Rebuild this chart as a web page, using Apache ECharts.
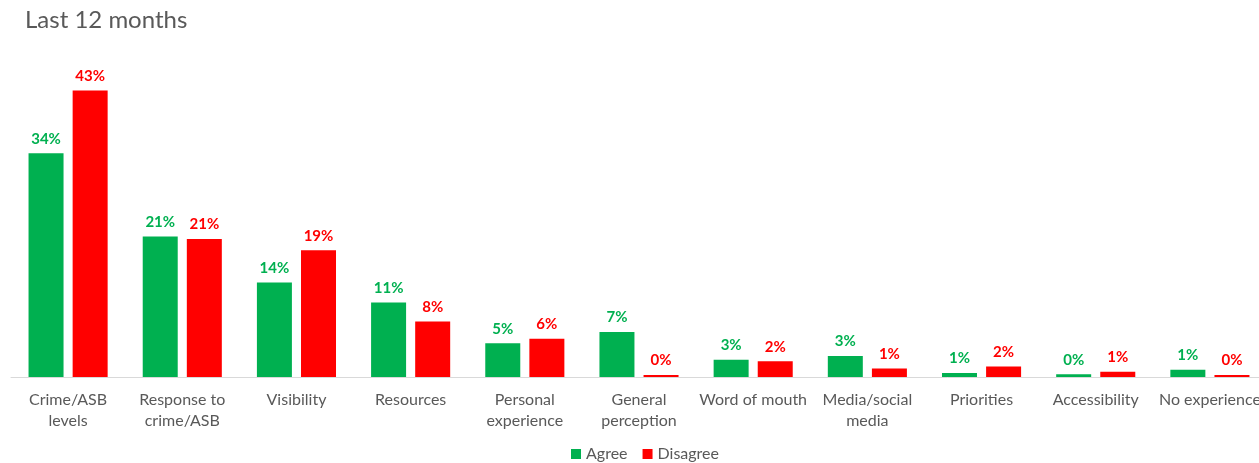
<!DOCTYPE html>
<html>
<head>
<meta charset="utf-8">
<script src="https://cdn.jsdelivr.net/npm/echarts@6/dist/echarts.min.js"></script>
<style>
  html, body { margin: 0; padding: 0; background: #fff; }
  #chart { width: 1259px; height: 463px; }
</style>
</head>
<body>
<div id="chart"></div>
<script>
// Reasons given, last 12 months (percent of respondents)
const categories = [
  'Crime/ASB\nlevels', 'Response to\ncrime/ASB', 'Visibility', 'Resources',
  'Personal\nexperience', 'General\nperception', 'Word of mouth',
  'Media/social\nmedia', 'Priorities', 'Accessibility', 'No experience'
];
const agree    = [33.9, 21.3, 14.3, 11.3, 5.1, 6.8, 2.6, 3.2, 0.6, 0.4, 1.1];
const disagree = [43.4, 20.9, 19.2, 8.4, 5.8, 0.3, 2.4, 1.3, 1.6, 0.8, 0.3];
const seriesNames = ['Agree', 'Disagree'];

const FONT = 'Lato, "Open Sans", sans-serif';
const GREEN = '#00B050';
const RED = '#FF0000';

const chart = echarts.init(document.getElementById('chart'), null, { renderer: 'canvas' });

function barSeries(name, data, color) {
  return {
    name: name,
    type: 'bar',
    data: data,
    barWidth: 35,
    barGap: '26%',
    itemStyle: { color: color },
    label: {
      show: true,
      position: 'top',
      distance: 7,
      color: color,
      fontFamily: FONT,
      fontWeight: 'bold',
      fontSize: 15,
      formatter: p => Math.round(p.value) + '%'
    }
  };
}

chart.setOption({
  animation: false,
  title: {
    text: 'Last 12 months',
    left: 20,
    top: 3,
    textStyle: { fontFamily: FONT, fontSize: 24, fontWeight: 'normal', color: '#595959' }
  },
  legend: {
    top: 441,
    left: 566,
    itemWidth: 10,
    itemHeight: 10,
    itemGap: 15,
    icon: 'rect',
    textStyle: { fontFamily: FONT, fontSize: 16, color: '#595959' },
    data: seriesNames
  },
  // the last category label runs off the right edge, so don't shrink the grid to fit it
  grid: { left: 11, width: 1256, top: 47, height: 330, outerBoundsMode: 'none', containLabel: false },
  xAxis: {
    type: 'category',
    data: categories,
    axisLine: { lineStyle: { color: '#D9D9D9', width: 1 } },
    axisTick: { show: false },
    axisLabel: {
      interval: 0,
      margin: 12,
      lineHeight: 21,
      fontFamily: FONT,
      fontSize: 16,
      color: '#595959'
    }
  },
  yAxis: {
    type: 'value',
    min: 0,
    max: 50,
    show: false
  },
  series: [
    barSeries(seriesNames[0], agree, GREEN),
    barSeries(seriesNames[1], disagree, RED)
  ]
});
</script>
</body>
</html>
